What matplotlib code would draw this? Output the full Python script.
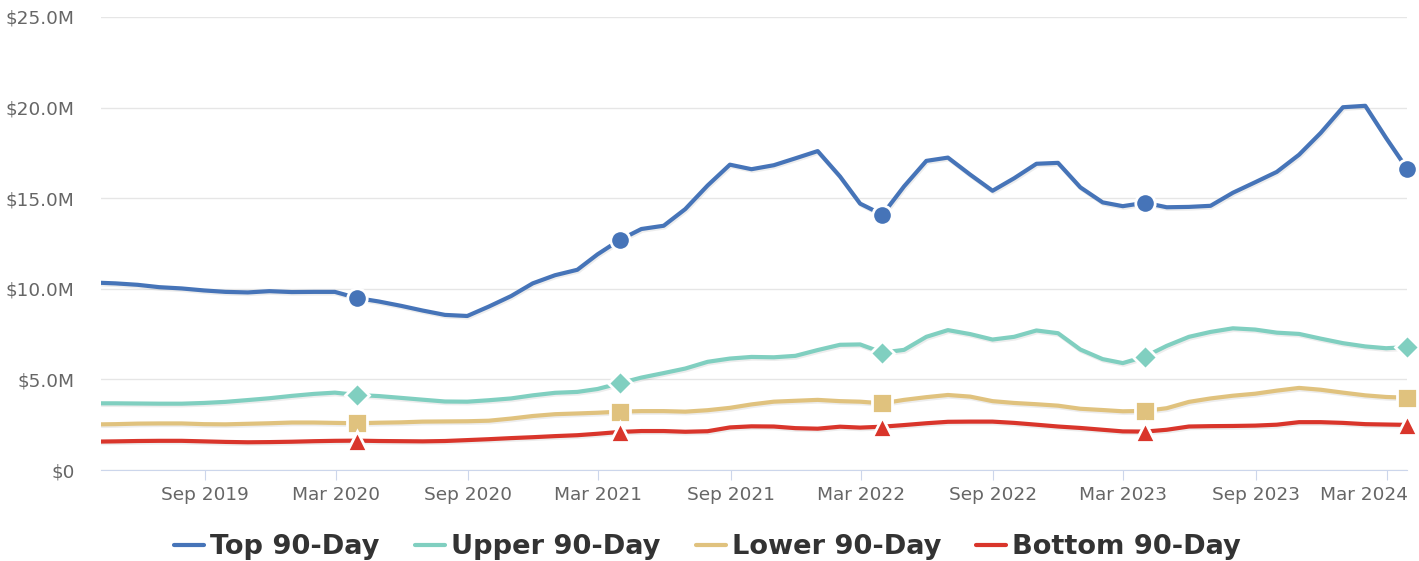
import matplotlib
matplotlib.use("Agg")
import matplotlib.pyplot as plt
import matplotlib.dates as mdates
import matplotlib.patheffects as pe
import matplotlib.transforms as mtransforms
from matplotlib.ticker import FuncFormatter
import pandas as pd

# x positions: first day of the data, month ends, last day of the data
dates = ([pd.Timestamp("2019-04-10")]
         + list(pd.date_range("2019-04-30", "2024-02-29", freq="ME"))
         + [pd.Timestamp("2024-03-29")])

# values in $M
top = [10.33, 10.30, 10.22, 10.09, 10.02, 9.91, 9.83, 9.80, 9.87, 9.82,
       9.83, 9.83, 9.49, 9.30, 9.06, 8.80, 8.56, 8.50, 9.02, 9.60, 10.30, 10.75,
       11.05, 11.90, 12.70, 13.30, 13.48, 14.40, 15.70, 16.85, 16.60, 16.82, 17.20, 17.60,
       16.20, 14.70, 14.09, 15.65, 17.06, 17.24, 16.30, 15.41, 16.10, 16.90, 16.95, 15.60,
       14.77, 14.56, 14.75, 14.50, 14.52, 14.58, 15.30, 15.88, 16.45, 17.40, 18.60, 20.02,
       20.10, 18.32, 16.63]
upper = [3.68, 3.68, 3.67, 3.66, 3.66, 3.70, 3.76, 3.86, 3.96, 4.09,
         4.20, 4.27, 4.14, 4.08, 3.98, 3.88, 3.78, 3.77, 3.85, 3.95, 4.12, 4.26,
         4.31, 4.47, 4.79, 5.10, 5.35, 5.60, 5.97, 6.15, 6.24, 6.22, 6.30, 6.62,
         6.91, 6.93, 6.48, 6.63, 7.35, 7.72, 7.50, 7.20, 7.35, 7.70, 7.55, 6.65,
         6.12, 5.90, 6.26, 6.85, 7.35, 7.62, 7.82, 7.75, 7.58, 7.51, 7.25, 7.00,
         6.82, 6.72, 6.78]
lower = [2.52, 2.53, 2.56, 2.57, 2.57, 2.53, 2.52, 2.55, 2.58, 2.62,
         2.62, 2.60, 2.58, 2.61, 2.63, 2.67, 2.68, 2.69, 2.72, 2.84, 2.98, 3.08,
         3.12, 3.16, 3.22, 3.25, 3.25, 3.22, 3.30, 3.43, 3.62, 3.77, 3.82, 3.87,
         3.80, 3.77, 3.68, 3.87, 4.02, 4.14, 4.05, 3.80, 3.70, 3.63, 3.55, 3.38,
         3.31, 3.24, 3.26, 3.41, 3.76, 3.95, 4.10, 4.21, 4.38, 4.53, 4.43, 4.27,
         4.12, 4.03, 3.99]
bottom = [1.57, 1.58, 1.60, 1.61, 1.61, 1.58, 1.55, 1.53, 1.54, 1.56,
          1.59, 1.61, 1.62, 1.60, 1.59, 1.58, 1.60, 1.65, 1.70, 1.76, 1.81, 1.87,
          1.92, 2.00, 2.10, 2.15, 2.15, 2.11, 2.14, 2.35, 2.41, 2.40, 2.31, 2.28,
          2.39, 2.34, 2.39, 2.48, 2.58, 2.66, 2.67, 2.67, 2.60, 2.50, 2.40, 2.32,
          2.22, 2.13, 2.12, 2.22, 2.40, 2.42, 2.43, 2.45, 2.50, 2.64, 2.64, 2.60,
          2.53, 2.51, 2.49]

names = ["Top 90-Day", "Upper 90-Day", "Lower 90-Day", "Bottom 90-Day"]
colors = ["#4674B8", "#80CFC0", "#E0C27E", "#D9352B"]
markers = ["o", "D", "s", "^"]
msizes = [14, 12, 14, 14]

xticks = ["2019-09-01", "2020-03-01", "2020-09-01", "2021-03-01", "2021-09-01",
          "2022-03-01", "2022-09-01", "2023-03-01", "2023-09-01", "2024-03-01"]

# one marker per year, at the end of March
mark_idx = [i for i, d in enumerate(dates) if d.month == 3 and d.day >= 29]

fig = plt.figure(figsize=(14.19, 5.61), dpi=100)
ax = fig.add_axes([101 / 1419, 91 / 561, 1306 / 1419, 453 / 561])

shadow = [pe.SimpleLineShadow(offset=(0.8, -1.2), shadow_color="black", alpha=0.07),
          pe.Normal()]
for vals, name, c, m, ms in zip([top, upper, lower, bottom], names, colors, markers, msizes):
    ys = [v * 1e6 for v in vals]
    ax.plot(dates, ys, color=c, lw=3, label=name, path_effects=shadow,
            solid_capstyle="round", zorder=3)
    ax.plot([dates[i] for i in mark_idx], [ys[i] for i in mark_idx], ls="none",
            marker=m, ms=ms, mfc=c, mec="white", mew=2, clip_on=False, zorder=4)

ax.set_xlim(dates[0], dates[-1])
ax.set_ylim(0, 25e6)
ax.set_yticks([0, 5e6, 10e6, 15e6, 20e6, 25e6])
ax.yaxis.set_major_formatter(FuncFormatter(lambda v, p: "$0" if v == 0 else "${:.1f}M".format(v / 1e6)))
ax.set_xticks([pd.Timestamp(d) for d in xticks])
ax.xaxis.set_major_formatter(mdates.DateFormatter("%b %Y"))

ax.grid(axis="y", color="#e6e6e6", lw=1)
ax.set_axisbelow(True)
for s in ["top", "right", "left"]:
    ax.spines[s].set_visible(False)
ax.spines["bottom"].set_color("#ccd6eb")
ax.tick_params(axis="y", length=0, pad=19, labelsize=13.3, labelcolor="#666666")
ax.tick_params(axis="x", length=7.5, color="#ccd6eb", pad=4, labelsize=13.3, labelcolor="#666666")

# keep the last date label inside the plot's right edge
fig.canvas.draw()
last = ax.get_xticklabels()[-1]
last.set_horizontalalignment("right")
last.set_transform(last.get_transform() + mtransforms.ScaledTranslation(0.21, 0, fig.dpi_scale_trans))

leg = ax.legend(loc="upper center", bbox_to_anchor=(0.4645, -0.088), ncol=4, frameon=False,
                handlelength=1.1, handletextpad=0.22, columnspacing=1.3,
                prop={"weight": "bold", "size": 19.6})
for t in leg.get_texts():
    t.set_color("#333333")
for h in leg.get_lines():
    h.set_linewidth(3)
    h.set_path_effects([])

fig.savefig("out.png", dpi=100)
